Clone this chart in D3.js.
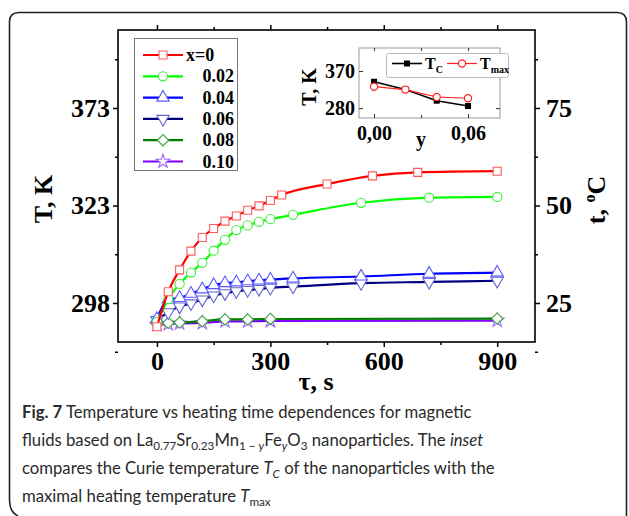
<!DOCTYPE html>
<html>
<head>
<meta charset="utf-8">
<script src="https://cdn.jsdelivr.net/npm/d3@7"></script>
<style>
  body { margin: 0; background: #fff; }
  #chart { position: relative; width: 629px; height: 516px; }
  svg { display: block; position: absolute; left: 0; top: 0; }
  .bold { font-family: "Liberation Serif", "Times New Roman", serif; font-weight: bold; fill: #000; }
  .caption {
    position: absolute; left: 22px; top: 398px; width: 600px;
    font-family: Lato, "Open Sans", sans-serif; font-size: 16.7px; line-height: 28px; color: #2a2a2a;
  }
  .caption sub { font-size: 70%; vertical-align: -0.3em; line-height: 0; }
</style>
</head>
<body>
<div id="chart"></div>
<script>
// main chart: heating time tau (s) vs temperature (degC, right axis)
const seriesLabels = ["x=0", "0.02", "0.04", "0.06", "0.08", "0.10"];

const tau_x000 = [0, 30, 60, 90, 120, 150, 180, 210, 240, 270, 300, 330, 450, 570, 690, 900];
const temp_x000 = [18.9, 27.9, 33.5, 38.3, 41.8, 44.1, 46.0, 47.3, 48.8, 49.9, 51.3, 52.7, 55.5, 57.6, 58.5, 58.8];

const tau_x002 = [0, 30, 60, 90, 120, 150, 180, 210, 240, 270, 300, 360, 540, 720, 900];
const temp_x002 = [20.1, 26.0, 29.9, 32.8, 35.3, 38.4, 41.2, 43.7, 44.9, 45.8, 46.5, 47.6, 50.7, 52.0, 52.2];

const tau_x004 = [0, 30, 60, 90, 120, 150, 180, 210, 240, 270, 300, 360, 540, 720, 900];
const temp_x004 = [20.9, 25.9, 26.3, 27.4, 28.5, 29.6, 30.1, 30.3, 30.6, 30.8, 31.0, 31.3, 31.8, 32.5, 32.8];

const tau_x006 = [0, 30, 60, 90, 120, 150, 180, 210, 240, 270, 300, 360, 540, 720, 900];
const temp_x006 = [20.6, 22.6, 24.1, 24.9, 25.9, 26.9, 27.5, 28.0, 28.3, 28.6, 28.9, 29.2, 30.1, 30.4, 30.7];

const tau_x008 = [0, 30, 60, 120, 180, 240, 300, 900];
const temp_x008 = [19.6, 19.9, 20.0, 20.3, 20.8, 20.8, 20.9, 21.0];

const tau_x010 = [0, 30, 60, 120, 180, 240, 300, 900];
const temp_x010 = [19.4, 19.6, 19.8, 19.9, 20.3, 20.3, 20.4, 20.5];

const xTicks = [0, 300, 600, 900];
const xMinorTicks = [-150, 150, 450, 750];
const yTicks = [25, 50, 75];               // degC
const yMinorTicks = [12.5, 37.5, 62.5, 87.5];
const leftTickLabels = ["298", "323", "373"];
const rightTickLabels = ["25", "50", "75"];

// inset: Curie temperature vs max heating temperature
const yInset = [0.00, 0.02, 0.04, 0.06];
const tcInset = [344, 325, 298, 285];
const tmaxInset = [332, 325, 307, 304];
const insetXTicks = [0.00, 0.06];
const insetXMinor = [0.03];
const insetYTicks = [280, 370];

class HeatingChart {
    constructor(_config) {
        this.config = _config;
        this.InitVis();
    }

    InitVis() {
        const vis = this;

        vis.svg = d3.select(vis.config.parentElement)
            .append("svg")
            .attr("width", 629)
            .attr("height", 516);

        vis.svg.append("rect")
            .attr("width", 629).attr("height", 516)
            .attr("fill", "#fff");

        // outer rounded frame (bottom edge falls off the picture)
        const p = d3.path();
        p.moveTo(18, 516);
        p.quadraticCurveTo(9.5, 512, 9.5, 500);
        p.lineTo(9.5, 22);
        p.quadraticCurveTo(9.5, 12.5, 19, 12.5);
        p.lineTo(617, 12.5);
        p.quadraticCurveTo(626.5, 12.5, 626.5, 22);
        p.lineTo(626.5, 516);
        vis.svg.append("path")
            .attr("d", p.toString())
            .attr("fill", "none")
            .attr("stroke", "#222")
            .attr("stroke-width", 1.6);

        vis.x = d3.scaleLinear().domain([-103, 1000]).range([118, 535]);
        vis.y = d3.scaleLinear().domain([15, 95]).range([342, 30]);

        vis.series = [
            { label: seriesLabels[0], tau: tau_x000, temp: temp_x000, color: "#ff0000", mark: "#ff5a5a", shape: "square" },
            { label: seriesLabels[1], tau: tau_x002, temp: temp_x002, color: "#00ff00", mark: "#3cf03c", shape: "circle" },
            { label: seriesLabels[2], tau: tau_x004, temp: temp_x004, color: "#0000ff", mark: "#5a5aff", shape: "triangle" },
            { label: seriesLabels[3], tau: tau_x006, temp: temp_x006, color: "#000080", mark: "#6464d2", shape: "triangleDown" },
            { label: seriesLabels[4], tau: tau_x008, temp: temp_x008, color: "#008000", mark: "#3ca03c", shape: "diamond" },
            { label: seriesLabels[5], tau: tau_x010, temp: temp_x010, color: "#8000ff", mark: "#a064ff", shape: "star" }
        ];

        vis.UpdateVis();
    }

    symbolPath(shape) {
        if (shape === "square" || shape === "diamond") return d3.symbol(d3.symbolSquare, 64)();
        if (shape === "circle") return d3.symbol(d3.symbolCircle, 66)();
        if (shape === "triangle" || shape === "triangleDown") return d3.symbol(d3.symbolTriangle, 66)();
        return d3.symbol(d3.symbolStar, 58)();
    }

    symbolRotate(shape) {
        if (shape === "diamond") return 45;
        if (shape === "triangleDown") return 180;
        return 0;
    }

    UpdateVis() {
        const vis = this;
        const x = vis.x, y = vis.y;

        // axes
        const left = vis.svg.append("g").attr("transform", "translate(118,0)")
            .call(d3.axisLeft(y).tickValues(yTicks).tickSize(5).tickSizeOuter(0).tickPadding(3)
                .tickFormat((d, i) => leftTickLabels[i]));
        vis.svg.append("g").attr("transform", "translate(118,0)")
            .call(d3.axisLeft(y).tickValues(yMinorTicks).tickSize(3).tickSizeOuter(0).tickFormat(""));

        const right = vis.svg.append("g").attr("transform", "translate(535,0)")
            .call(d3.axisRight(y).tickValues(yTicks).tickSize(5).tickSizeOuter(0).tickPadding(6)
                .tickFormat((d, i) => rightTickLabels[i]));
        vis.svg.append("g").attr("transform", "translate(535,0)")
            .call(d3.axisRight(y).tickValues(yMinorTicks).tickSize(3).tickSizeOuter(0).tickFormat(""));

        const bottom = vis.svg.append("g").attr("transform", "translate(0,342)")
            .call(d3.axisBottom(x).tickValues(xTicks).tickSize(5).tickSizeOuter(0).tickPadding(5));
        vis.svg.append("g").attr("transform", "translate(0,342)")
            .call(d3.axisBottom(x).tickValues(xMinorTicks.filter(d => d > -103)).tickSize(3).tickSizeOuter(0).tickFormat(""));

        vis.svg.append("g").attr("transform", "translate(0,30)")
            .call(d3.axisTop(x).tickValues(xTicks).tickSize(5).tickSizeOuter(0).tickFormat(""));
        vis.svg.append("g").attr("transform", "translate(0,30)")
            .call(d3.axisTop(x).tickValues(xMinorTicks.filter(d => d > -103)).tickSize(3).tickSizeOuter(0).tickFormat(""));

        vis.svg.selectAll(".domain").remove();
        vis.svg.selectAll(".tick line").attr("stroke", "#000").attr("stroke-width", 1.5);
        [left, right, bottom].forEach(g => g.selectAll("text")
            .attr("class", "bold").attr("font-size", 26).attr("fill", "#000"));

        vis.svg.append("rect")
            .attr("x", 118).attr("y", 30)
            .attr("width", 535 - 118).attr("height", 342 - 30)
            .attr("fill", "none").attr("stroke", "#000").attr("stroke-width", 1.6);

        // axis titles
        vis.svg.append("text").attr("class", "bold").attr("font-size", 26)
            .attr("text-anchor", "middle")
            .attr("transform", "translate(52,199) rotate(-90)")
            .text("T, K");

        vis.svg.append("text").attr("class", "bold").attr("font-size", 26)
            .attr("text-anchor", "middle")
            .attr("x", 316).attr("y", 390)
            .text("τ, s");

        const rt = vis.svg.append("text").attr("class", "bold").attr("font-size", 26)
            .attr("text-anchor", "middle")
            .attr("transform", "translate(605,200) rotate(-90)");
        rt.append("tspan").text("t, ");
        rt.append("tspan").attr("font-size", 16).attr("dy", -10).text("o");
        rt.append("tspan").attr("dy", 10).text("C");

        // curves
        const line = d3.line()
            .x(d => x(d[0]))
            .y(d => y(d[1]))
            .curve(d3.curveMonotoneX);

        const groups = vis.svg.selectAll(".series")
            .data(vis.series.slice().reverse())
            .enter()
            .append("g")
            .attr("class", "series");

        groups.append("path")
            .attr("d", s => line(s.tau.map((t, i) => [t, s.temp[i]])))
            .attr("fill", "none")
            .attr("stroke", s => s.color)
            .attr("stroke-width", 2.2);

        groups.each(function (s) {
            d3.select(this).selectAll("path.mk")
                .data(s.tau.map((t, i) => [t, s.temp[i]]))
                .enter()
                .append("path")
                .attr("class", "mk")
                .attr("d", vis.symbolPath(s.shape))
                .attr("transform", d => `translate(${x(d[0])},${y(d[1])}) rotate(${vis.symbolRotate(s.shape)})`)
                .attr("fill", "#fff")
                .attr("stroke", s.mark)
                .attr("stroke-width", 1.1);
        });

        // legend
        const lg = vis.svg.append("g");
        lg.append("rect")
            .attr("x", 134.5).attr("y", 38.5)
            .attr("width", 103).attr("height", 132)
            .attr("fill", "#fff").attr("stroke", "#777").attr("stroke-width", 1);

        const rows = lg.selectAll(".row")
            .data(vis.series)
            .enter()
            .append("g")
            .attr("transform", (d, i) => `translate(0,${55 + i * 21.3})`);

        rows.append("line")
            .attr("x1", 143).attr("x2", 183)
            .attr("stroke", d => d.color).attr("stroke-width", 2.2);
        rows.append("path")
            .attr("d", d => vis.symbolPath(d.shape))
            .attr("transform", d => `translate(163,0) rotate(${vis.symbolRotate(d.shape)})`)
            .attr("fill", "#fff").attr("stroke", d => d.mark).attr("stroke-width", 1.1);
        rows.append("text")
            .attr("class", "bold").attr("font-size", 18)
            .attr("x", (d, i) => i === 0 ? 186 : 234)
            .attr("y", 6)
            .attr("text-anchor", (d, i) => i === 0 ? "start" : "end")
            .text(d => d.label);

        vis.DrawInset();
    }

    DrawInset() {
        const vis = this;
        const xi = d3.scaleLinear().domain([-0.0096, 0.0804]).range([359, 500]);
        const yi = d3.scaleLinear().domain([256, 426]).range([118, 48]);
        const g = vis.svg.append("g");

        g.append("rect")
            .attr("x", 359).attr("y", 48)
            .attr("width", 141).attr("height", 70)
            .attr("fill", "#fff").attr("stroke", "#999").attr("stroke-width", 1);

        const fmt = d => d3.format(".2f")(d).replace(".", ",");

        const ax = [
            g.append("g").attr("transform", "translate(359,0)")
                .call(d3.axisLeft(yi).tickValues(insetYTicks).tickSize(-4).tickPadding(4)),
            g.append("g").attr("transform", "translate(500,0)")
                .call(d3.axisRight(yi).tickValues(insetYTicks).tickSize(-4).tickFormat("")),
            g.append("g").attr("transform", "translate(0,118)")
                .call(d3.axisBottom(xi).tickValues(insetXTicks).tickSize(-4).tickPadding(8).tickFormat(fmt)),
            g.append("g").attr("transform", "translate(0,118)")
                .call(d3.axisBottom(xi).tickValues(insetXMinor).tickSize(-3).tickFormat("")),
            g.append("g").attr("transform", "translate(0,48)")
                .call(d3.axisTop(xi).tickValues(insetXTicks.concat(insetXMinor)).tickSize(-3).tickFormat(""))
        ];
        ax.forEach(a => {
            a.select(".domain").remove();
            a.selectAll(".tick line").attr("stroke", "#333").attr("stroke-width", 1);
            a.selectAll("text").attr("class", "bold").attr("font-size", 20).attr("fill", "#000");
        });

        g.append("text").attr("class", "bold").attr("font-size", 20)
            .attr("text-anchor", "middle")
            .attr("transform", "translate(316,87) rotate(-90)")
            .text("T, K");
        g.append("text").attr("class", "bold").attr("font-size", 20)
            .attr("text-anchor", "middle")
            .attr("x", 421).attr("y", 146)
            .text("y");

        const tc = yInset.map((v, i) => [v, tcInset[i]]);
        const tm = yInset.map((v, i) => [v, tmaxInset[i]]);
        const ln = d3.line().x(d => xi(d[0])).y(d => yi(d[1]));

        g.append("path").attr("d", ln(tc))
            .attr("fill", "none").attr("stroke", "#000").attr("stroke-width", 1.6);
        g.append("path").attr("d", ln(tm))
            .attr("fill", "none").attr("stroke", "#ff2020").attr("stroke-width", 1.2);

        g.selectAll(".tc").data(tc).enter().append("path")
            .attr("d", d3.symbol(d3.symbolSquare, 36)())
            .attr("transform", d => `translate(${xi(d[0])},${yi(d[1])})`)
            .attr("fill", "#000");
        g.selectAll(".tm").data(tm).enter().append("circle")
            .attr("cx", d => xi(d[0])).attr("cy", d => yi(d[1])).attr("r", 3.6)
            .attr("fill", "#fff").attr("stroke", "#ff2020").attr("stroke-width", 1.2);

        // inset legend
        const lg = g.append("g");
        lg.append("rect")
            .attr("x", 386.5).attr("y", 53.5).attr("width", 122).attr("height", 24).attr("rx", 2)
            .attr("fill", "#fff").attr("stroke", "#bbb");
        lg.append("line").attr("x1", 392).attr("x2", 422).attr("y1", 63.5).attr("y2", 63.5)
            .attr("stroke", "#000").attr("stroke-width", 1.6);
        lg.append("path").attr("d", d3.symbol(d3.symbolSquare, 36)())
            .attr("transform", "translate(407,63.5)").attr("fill", "#000");
        const t1 = lg.append("text").attr("class", "bold").attr("font-size", 16).attr("x", 425).attr("y", 69);
        t1.append("tspan").text("T");
        t1.append("tspan").attr("font-size", 10).attr("dy", 4).text("C");

        lg.append("line").attr("x1", 447).attr("x2", 477).attr("y1", 63.5).attr("y2", 63.5)
            .attr("stroke", "#ff2020").attr("stroke-width", 1.2);
        lg.append("circle").attr("cx", 462).attr("cy", 63.5).attr("r", 3.6)
            .attr("fill", "#fff").attr("stroke", "#ff2020").attr("stroke-width", 1.2);
        const t2 = lg.append("text").attr("class", "bold").attr("font-size", 16).attr("x", 480).attr("y", 69);
        t2.append("tspan").text("T");
        t2.append("tspan").attr("font-size", 10).attr("dy", 4).text("max");
    }
}

new HeatingChart({ parentElement: "#chart" });

d3.select("#chart").append("div")
    .attr("class", "caption")
    .html('<b>Fig. 7</b> Temperature vs heating time dependences for magnetic<br>' +
        'fluids based on La<sub>0.77</sub>Sr<sub>0.23</sub>Mn<sub>1 − <i>y</i></sub>Fe<sub><i>y</i></sub>O<sub>3</sub> nanoparticles. The <i>inset</i><br>' +
        'compares the Curie temperature <i>T<sub>C</sub></i> of the nanoparticles with the<br>' +
        'maximal heating temperature <i>T</i><sub>max</sub>');
</script>
</body>
</html>
